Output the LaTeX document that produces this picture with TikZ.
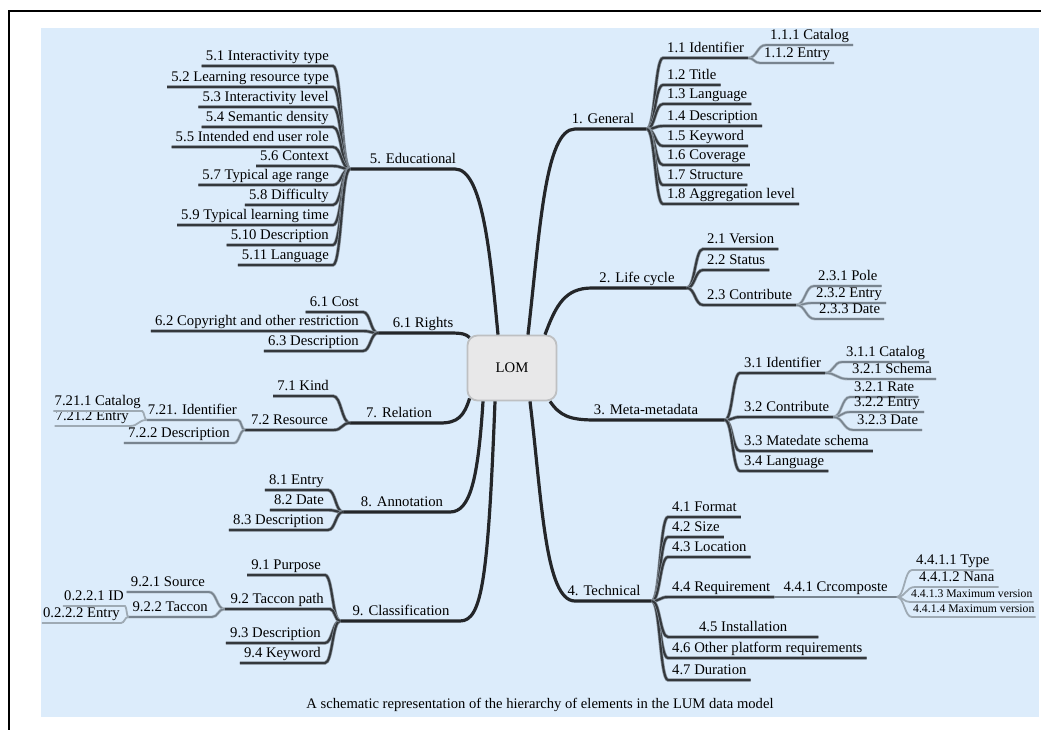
\documentclass[tikz,border=0pt]{standalone}
\usepackage{fontspec}
\setmainfont{Liberation Serif}
\usetikzlibrary{calc, positioning}

\definecolor{bgblue}{RGB}{220,236,251}
\definecolor{branchdark}{RGB}{36,38,41}
\definecolor{twigdark}{RGB}{52,56,60}
\definecolor{twighalo}{RGB}{135,145,155}
\definecolor{leafgray}{RGB}{120,132,143}
\definecolor{leafhalo}{RGB}{175,187,197}
\definecolor{finegray}{RGB}{158,170,180}
\definecolor{lomfill}{RGB}{232,232,233}
\definecolor{lomedge}{RGB}{190,192,194}

\tikzset{
    lbl/.style={font=\fontsize{14.7}{16}\selectfont, inner xsep=4pt, inner ysep=1pt, text height=10pt, text depth=4pt},
    lblsmall/.style={lbl, font=\fontsize{11.7}{13}\selectfont, text height=8pt, text depth=3pt},
    lom/.style={draw=lomedge, fill=lomfill, line width=1.8pt, rounded corners=10pt, minimum width=89pt, minimum height=65pt, font=\fontsize{14.7}{16}\selectfont},
    branch/.style={draw=branchdark, line width=3.2pt},
    twig/.style={draw=twigdark, line width=2pt, preaction={draw=twighalo, line width=3.4pt}},
    leaf/.style={draw=leafgray, line width=1.6pt, preaction={draw=leafhalo, line width=2.9pt}},
    fine/.style={draw=finegray, line width=1.8pt},
    fork/.style={to path={let \p1=(\tikztostart), \p2=(\tikztotarget) in
        .. controls ({(\x1+\x2)/2},\y1) and ({(\x1+\x2)/2},\y2) .. (\tikztotarget)}}
}

\begin{document}
\begin{tikzpicture}[x=1pt, y=-1pt]
    \useasboundingbox (0,0) rectangle (1041,730);
    \fill[bgblue] (41,28) rectangle (1039,717);
    \draw[black, line width=2.5pt] (9,730) -- (9,11) -- (1041,11);

    \node[lom] (lom) at (512,368) {LOM};
    \node[font=\fontsize{14.6}{16}\selectfont] (caption) at (540,705)
        {A schematic representation of the hierarchy of elements in the LUM data model};

    % main branches
    \coordinate (jg) at (647,129);
    \coordinate (jl) at (687,288);
    \coordinate (jm) at (725,420);
    \coordinate (jt) at (652,601);
    \coordinate (je) at (350,169);
    \coordinate (jr) at (378,333);
    \coordinate (jx) at (350,423);
    \coordinate (ja) at (343,512);
    \coordinate (jc) at (340,621);

    \draw[branch] ($(lom.north)+(16,0)$) .. controls (540,230) and (545,129) .. (575,129) -- (jg);
    \draw[branch] ($(lom.north)+(33,0)$) .. controls (556,305) and (565,288) .. (592,288) -- (jl);
    \draw[branch] ($(lom.south)+(38,0)$) .. controls (560,416) and (570,420) .. (595,420) -- (jm);
    \draw[branch] ($(lom.south)+(18,0)$) .. controls (542,500) and (545,601) .. (575,601) -- (jt);
    \draw[branch] ($(lom.north)+(-14,0)$) .. controls (490,250) and (482,169) .. (455,169) -- (je);
    \draw[branch] ($(lom.north west)+(3,3)$) .. controls (466,334) and (462,333) .. (450,333) -- (jr);
    \draw[branch] ($(lom.south west)+(3,-3)$) .. controls (464,416) and (458,423) .. (440,423) -- (jx);
    \draw[branch] ($(lom.south)+(-29,0)$) .. controls (478,480) and (470,512) .. (450,512) -- (ja);
    \draw[branch] ($(lom.south)+(-17,0)$) .. controls (488,580) and (482,621) .. (460,621) -- (jc);

    \node[lbl, anchor=south] (gen) at (603,129) {1. General};
    \node[lbl, anchor=south] (life) at (637,288) {2. Life cycle};
    \node[lbl, anchor=south] (meta) at (646,420) {3. Meta-metadata};
    \node[lbl, anchor=south] (tech) at (604,601) {4. Technical};
    \node[lbl, anchor=south] (edu) at (413,169) {5. Educational};
    \node[lbl, anchor=south] (rights) at (423,333) {6.1 Rights};
    \node[lbl, anchor=south] (rel) at (399,423) {7. Relation};
    \node[lbl, anchor=south] (anno) at (402,512) {8. Annotation};
    \node[lbl, anchor=south] (cls) at (401,621) {9. Classification};

    % 1. General
    \foreach \nd/\yy/\t in {g1/58/1.1 Identifier, g2/85/1.2 Title, g3/104/1.3 Language,
        g4/126/1.4 Description, g5/146/1.5 Keyword, g6/165/1.6 Coverage,
        g7/185/1.7 Structure, g8/204/1.8 Aggregation level} {
        \node[lbl, anchor=south west] (\nd) at (663,\yy) {\t};
        \draw[twig] (jg) to[fork] (\nd.south west) -- (\nd.south east);
    }
    \node[lbl, anchor=south west] (g11) at (766,45) {1.1.1 Catalog};
    \node[lbl, anchor=south west] (g12) at (760,63) {1.1.2 Entry};
    \foreach \nd in {g11, g12}
        \draw[leaf] (g1.south east) to[fork] (\nd.south west) -- (\nd.south east);

    % 2. Life cycle
    \foreach \nd/\yy/\t in {l1/249/2.1 Version, l2/270/2.2 Status, l3/305/2.3 Contribute} {
        \node[lbl, anchor=south west] (\nd) at (703,\yy) {\t};
        \draw[twig] (jl) to[fork] (\nd.south west) -- (\nd.south east);
    }
    \foreach \nd/\xx/\yy/\t in {l31/814/286/2.3.1 Pole, l32/812/303/2.3.2 Entry, l33/815/319/2.3.3 Date} {
        \node[lbl, anchor=south west] (\nd) at (\xx,\yy) {\t};
        \draw[leaf] (l3.south east) to[fork] (\nd.south west) -- (\nd.south east);
    }

    % 3. Meta-metadata
    \foreach \nd/\yy/\t in {m1/373/3.1 Identifier, m2/417/3.2 Contribute,
        m3/451/3.3 Matedate schema, m4/471/3.4 Language} {
        \node[lbl, anchor=south west] (\nd) at (740,\yy) {\t};
        \draw[twig] (jm) to[fork] (\nd.south west) -- (\nd.south east);
    }
    \foreach \nd/\xx/\yy/\t in {m11/842/362/3.1.1 Catalog, m12/848/379/3.2.1 Schema} {
        \node[lbl, anchor=south west] (\nd) at (\xx,\yy) {\t};
        \draw[leaf] (m1.south east) to[fork] (\nd.south west) -- (\nd.south east);
    }
    \foreach \nd/\xx/\yy/\t in {m21/850/397/3.2.1 Rate, m22/850/412/3.2.2 Entry, m23/853/430/3.2.3 Date} {
        \node[lbl, anchor=south west] (\nd) at (\xx,\yy) {\t};
        \draw[leaf] (m2.south east) to[fork] (\nd.south west) -- (\nd.south east);
    }

    % 4. Technical
    \foreach \nd/\yy/\t in {t1/517/4.1 Format, t2/537/4.2 Size, t3/557/4.3 Location,
        t4/597/4.4 Requirement, t6/658/4.6 Other platform requirements, t7/680/4.7 Duration} {
        \node[lbl, anchor=south west] (\nd) at (668,\yy) {\t};
        \draw[twig] (jt) to[fork] (\nd.south west) -- (\nd.south east);
    }
    \node[lbl, anchor=south west, minimum width=150pt] (t5) at (668,637) {4.5 Installation};
    \draw[twig] (jt) to[fork] (t5.south west) -- (t5.south east);
    \node[lbl, anchor=south west, inner xsep=9pt] (t41) at (t4.south east) {4.4.1 Crcomposte};
    \draw[leaf] (t4.south east) -- (t41.south east);
    \foreach \nd/\xx/\yy/\t in {t411/912/570/4.4.1.1 Type, t412/915/587/4.4.1.2 Nana} {
        \node[lbl, anchor=south west] (\nd) at (\xx,\yy) {\t};
        \draw[fine] (t41.south east) to[fork] (\nd.south west) -- (\nd.south east);
    }
    \foreach \nd/\xx/\yy/\t in {t413/910/602/4.4.1.3 Maximum version, t414/912/617/4.4.1.4 Maximum version} {
        \node[lblsmall, anchor=south west, inner xsep=1pt] (\nd) at (\xx,\yy) {\t};
        \draw[fine] (t41.south east) to[fork] (\nd.south west) -- (\nd.south east);
    }

    % 5. Educational
    \foreach \nd/\yy/\t in {e1/66/5.1 Interactivity type, e2/87/5.2 Learning resource type,
        e3/107/5.3 Interactivity level, e4/127/5.4 Semantic density,
        e5/147/5.5 Intended end user role, e6/166/5.6 Context,
        e7/185/5.7 Typical age range, e8/205/5.8 Difficulty,
        e9/225/5.9 Typical learning time, e10/245/5.10 Description, e11/265/5.11 Language} {
        \node[lbl, anchor=south east] (\nd) at (333,\yy) {\t};
        \draw[twig] (je) to[fork] (\nd.south east) -- (\nd.south west);
    }

    % 6.1 Rights
    \foreach \nd/\yy/\t in {r1/312/6.1 Cost, r2/331/6.2 Copyright and other restriction, r3/351/6.3 Description} {
        \node[lbl, anchor=south east] (\nd) at (363,\yy) {\t};
        \draw[twig] (jr) to[fork] (\nd.south east) -- (\nd.south west);
    }

    % 7. Relation
    \node[lbl, anchor=south east] (x1) at (333,396) {7.1 Kind};
    \node[lbl, anchor=south east, inner xsep=6pt] (x2) at (334,430) {7.2 Resource};
    \foreach \nd in {x1, x2}
        \draw[twig] (jx) to[fork] (\nd.south east) -- (\nd.south west);
    \node[lbl, anchor=south east, inner xsep=1pt] (x21) at (238,420) {7.21. Identifier};
    \node[lbl, anchor=south east] (x22) at (234,443) {7.2.2 Description};
    \foreach \nd in {x21, x22}
        \draw[leaf] (x2.south west) to[fork] (\nd.south east) -- (\nd.south west);
    \node[lbl, anchor=south east, inner xsep=1pt] (x211) at (142,411) {7.21.1 Catalog};
    \node[lbl, anchor=south east, inner xsep=1pt] (x212) at (130,426) {7.21.2 Entry};
    \foreach \nd in {x211, x212}
        \draw[fine] (x21.south west) to[fork] (\nd.south east) -- (\nd.south west);

    % 8. Annotation
    \foreach \nd/\yy/\t in {a1/490/8.1 Entry, a2/510/8.2 Date, a3/530/8.3 Description} {
        \node[lbl, anchor=south east] (\nd) at (328,\yy) {\t};
        \draw[twig] (ja) to[fork] (\nd.south east) -- (\nd.south west);
    }

    % 9. Classification
    \foreach \nd/\yy/\t in {c1/575/9.1 Purpose, c3/643/9.3 Description, c4/663/9.4 Keyword} {
        \node[lbl, anchor=south east] (\nd) at (325,\yy) {\t};
        \draw[twig] (jc) to[fork] (\nd.south east) -- (\nd.south west);
    }
    \node[lbl, anchor=south east, inner xsep=6pt] (c2) at (330,609) {9.2 Taccon path};
    \draw[twig] (jc) to[fork] (c2.south east) -- (c2.south west);
    \node[lbl, anchor=south east] (c21) at (209,592) {9.2.1 Source};
    \node[lbl, anchor=south east] (c22) at (212,617) {9.2.2 Taccon};
    \foreach \nd in {c21, c22}
        \draw[leaf] (c2.south west) to[fork] (\nd.south east) -- (\nd.south west);
    \node[lbl, anchor=south east, inner xsep=1pt] (c221) at (125,606) {0.2.2.1 ID};
    \node[lbl, anchor=south east, inner xsep=1pt] (c222) at (121,623) {0.2.2.2 Entry};
    \foreach \nd in {c221, c222}
        \draw[fine] (c22.south west) to[fork] (\nd.south east) -- (\nd.south west);
\end{tikzpicture}
\end{document}
